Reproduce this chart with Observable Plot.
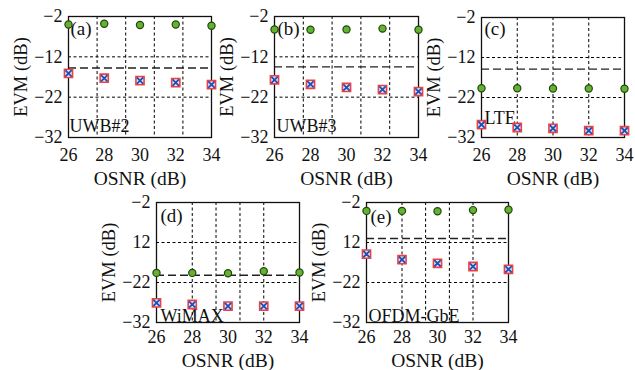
<!DOCTYPE html>
<html><head><meta charset="utf-8">
<script src="https://cdn.jsdelivr.net/npm/d3@7"></script>
<script src="https://cdn.jsdelivr.net/npm/@observablehq/plot@0.6"></script>
<style>
body{margin:0;background:#fff;}
#wrap{position:relative;width:635px;height:370px;overflow:hidden;background:#fff;}
#wrap > svg, #wrap > figure{position:absolute;margin:0;}
#wrap text{font-family:"Liberation Serif","Times New Roman",serif;}
</style>
</head><body><div id="wrap"></div>
<script>
const osnr = [26, 28, 30, 32, 34];
const xTicks = [26, 28, 30, 32, 34];
const yTicks = [-32, -22, -12, -2];
const yTickLabelsABC = ["\u221232", "\u221222", "\u221212", "\u22122"];
const yTickLabelsDE = ["\u221232", "\u221222", "12", "\u22122"];
const hGrid = [-12, -22];

const panelIds = ["(a)", "(b)", "(c)", "(d)", "(e)"];
const panelNames = ["UWB#2", "UWB#3", "LTE", "WiMAX", "OFDM-GbE"];

// green circles (upper series)
const greenA = [-4.0, -3.8, -4.1, -4.0, -4.3];
const greenB = [-5.2, -5.3, -5.2, -5.0, -5.3];
const greenC = [-19.7, -19.7, -19.75, -19.75, -19.8];
const greenD = [-19.6, -19.6, -19.7, -19.2, -19.5];
const greenE = [-4.1, -4.1, -4.2, -3.9, -3.8];
// red squares / blue crosses (lower series)
const redA = [-16.1, -17.3, -17.9, -18.4, -18.9];
const redB = [-17.7, -18.8, -19.6, -20.1, -20.6];
const redC = [-28.8, -29.5, -29.7, -30.3, -30.3];
const redD = [-27.1, -27.5, -27.9, -27.9, -27.9];
const redE = [-14.9, -16.3, -17.2, -18.0, -18.7];
const blueA = [-16.1, -17.3, -17.9, -18.4, -18.9];
const blueB = [-17.7, -18.8, -19.6, -20.1, -20.6];
const blueC = [-28.8, -29.5, -29.7, -30.3, -30.3];
const blueD = [-27.1, -27.5, -27.9, -27.9, -27.9];
const blueE = [-14.9, -16.3, -17.2, -18.0, -18.7];
// EVM threshold lines (long dash)
const thresholds = [-14.75, -14.5, -14.9, -20.2, -11.0];
// vertical dashed grid positions per panel
const vGridAB = [27.6, 29.2, 30.8, 32.4];
const vGridC = [28, 30, 32];
const vGridDE = [28, 29.33, 30.67, 32];

const FONT = "Liberation Serif, Times New Roman, serif";

function panel(cfg) {
  const rows = osnr.map((x, i) => ({x, g: cfg.green[i], r: cfg.red[i], b: cfg.blue[i]}));
  const labMap = new Map(yTicks.map((v, i) => [v, cfg.yLabels[i]]));
  const svg = Plot.plot({
    width: 68 + cfg.w + 14,
    height: 16 + cfg.h + 52,
    marginLeft: 68, marginTop: 16, marginRight: 14, marginBottom: 52,
    style: {background: "transparent", overflow: "visible", fontFamily: FONT, fontSize: "17px", color: "#111"},
    x: {domain: [26, 34], axis: null},
    y: {domain: [-32, -2], axis: null},
    marks: [
      Plot.ruleX(cfg.vGrid, {stroke: "#000", strokeWidth: 1, strokeDasharray: "3,2.5"}),
      Plot.ruleY(hGrid, {stroke: "#000", strokeWidth: 1, strokeDasharray: "3,2.5"}),
      Plot.ruleY([cfg.thr], {stroke: "#222", strokeWidth: 1.4, strokeDasharray: "8,4"}),
      Plot.frame({stroke: "#111", strokeWidth: 1.3}),
      Plot.axisX({ticks: xTicks, label: null, tickSize: 0, tickPadding: cfg.xtPad, fontSize: 18, fontFamily: FONT, tickFormat: d => String(d)}),
      Plot.axisY({ticks: yTicks, label: null, tickSize: 0, tickPadding: 6, fontSize: 18, fontFamily: FONT, tickFormat: d => labMap.get(d)}),
      Plot.text(["OSNR (dB)"], {frameAnchor: "bottom", dy: cfg.xlDy, fontSize: 19.5, fontFamily: FONT}),
      Plot.text(["EVM (dB)"], {frameAnchor: "left", textAnchor: "middle", rotate: -90, dx: -47, fontSize: 18.5, fontFamily: FONT}),
      Plot.text([cfg.id], {frameAnchor: "top-left", lineAnchor: "top", dx: cfg.idDx, dy: cfg.idDy, fontSize: 19, fontFamily: FONT}),
      Plot.text([cfg.name], {frameAnchor: "bottom-left", lineAnchor: "bottom", dx: cfg.nDx, dy: cfg.nDy, fontSize: 18, fontFamily: FONT}),
      Plot.dot(rows, {x: "x", y: "g", r: 3.6, fill: "#66b032", stroke: "#1f4a0c", strokeWidth: 1.2}),
      Plot.dot(rows, {x: "x", y: "r", symbol: "square", r: 4.6, fill: "#dfe6f5", stroke: "#f04040", strokeWidth: 1.6}),
      Plot.dot(rows, {x: "x", y: "b", symbol: "times", r: 3, stroke: "#1d4fb8", strokeWidth: 1.8})
    ]
  });
  svg.style.left = cfg.left + "px";
  svg.style.top = cfg.top + "px";
  return svg;
}

const wrap = document.getElementById("wrap");
const cfgs = [
  {id: panelIds[0], name: panelNames[0], green: greenA, red: redA, blue: blueA, thr: thresholds[0], vGrid: vGridAB, yLabels: yTickLabelsABC, left: 0, top: 0, w: 143, h: 121, idDx: 2, idDy: 5, nDx: 1, nDy: -6, xlDy: 47, xtPad: 11},
  {id: panelIds[1], name: panelNames[1], green: greenB, red: redB, blue: blueB, thr: thresholds[1], vGrid: vGridAB, yLabels: yTickLabelsABC, left: 206, top: 0, w: 144, h: 121, idDx: 3, idDy: 5, nDx: 2, nDy: -6, xlDy: 47, xtPad: 11},
  {id: panelIds[2], name: panelNames[2], green: greenC, red: redC, blue: blueC, thr: thresholds[2], vGrid: vGridC, yLabels: yTickLabelsABC, left: 413, top: 1, w: 143, h: 120, idDx: 3, idDy: 4, nDx: 3, nDy: -14, xlDy: 47, xtPad: 11},
  {id: panelIds[3], name: panelNames[3], green: greenD, red: redD, blue: blueD, thr: thresholds[3], vGrid: vGridDE, yLabels: yTickLabelsDE, left: 88, top: 186, w: 143, h: 120, idDx: 4, idDy: 6, nDx: 4, nDy: -1, xlDy: 44, xtPad: 8},
  {id: panelIds[4], name: panelNames[4], green: greenE, red: redE, blue: blueE, thr: thresholds[4], vGrid: vGridDE, yLabels: yTickLabelsDE, left: 298, top: 186, w: 142, h: 120, idDx: 4, idDy: 7, nDx: 2, nDy: -1, xlDy: 44, xtPad: 8}
];
for (const c of cfgs) wrap.appendChild(panel(c));
</script>
</body></html>
